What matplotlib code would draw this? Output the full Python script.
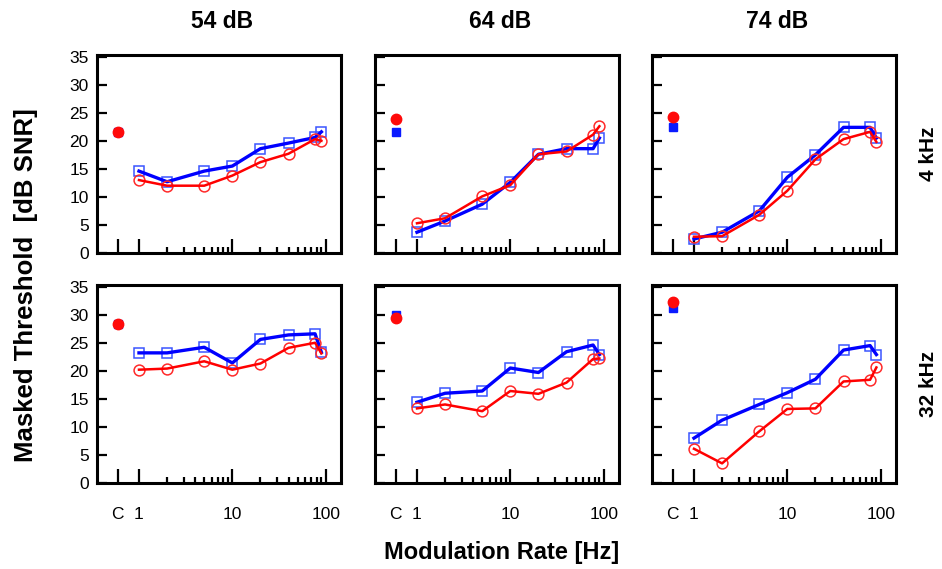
import numpy as np
import matplotlib
matplotlib.use("Agg")
import matplotlib.pyplot as plt
from matplotlib.ticker import FixedLocator, NullFormatter, FixedFormatter

plt.rcParams['font.family'] = ['Liberation Sans', 'DejaVu Sans']

# ---- data ----
rates = [1, 2, 5, 10, 20, 40, 77, 90]
c_pos = 0.59
levels = ["54 dB", "64 dB", "74 dB"]
freqs = ["4 kHz", "32 kHz"]

blue_4k_54 = [14.6, 12.7, 14.6, 15.5, 18.6, 19.6, 20.6, 21.6]
red_4k_54 = [13.0, 12.0, 12.0, 13.8, 16.2, 17.7, 20.3, 20.0]
blue_4k_64 = [3.7, 5.7, 8.7, 12.6, 17.6, 18.6, 18.6, 20.5]
red_4k_64 = [5.3, 6.2, 10.1, 12.1, 17.6, 18.1, 21.1, 22.6]
blue_4k_74 = [2.5, 3.7, 7.5, 13.5, 17.5, 22.4, 22.4, 20.5]
red_4k_74 = [2.9, 3.0, 6.8, 11.1, 16.7, 20.3, 21.6, 19.8]
blue_32k_54 = [23.2, 23.2, 24.2, 21.4, 25.6, 26.4, 26.6, 23.3]
red_32k_54 = [20.2, 20.4, 21.7, 20.2, 21.3, 24.1, 25.0, 23.1]
blue_32k_64 = [14.4, 16.0, 16.4, 20.5, 19.7, 23.4, 24.6, 22.9]
red_32k_64 = [13.3, 14.0, 12.8, 16.4, 15.9, 17.9, 22.1, 22.2]
blue_32k_74 = [8.0, 11.2, 14.0, 16.1, 18.5, 23.7, 24.5, 22.9]
red_32k_74 = [6.1, 3.5, 9.2, 13.2, 13.3, 18.1, 18.4, 20.6]

blue_ctrl = [[21.6, 21.6, 22.4], [28.4, 29.9, 31.2]]
red_ctrl = [[21.5, 23.9, 24.3], [28.4, 29.4, 32.3]]

blue_series = [[blue_4k_54, blue_4k_64, blue_4k_74],
               [blue_32k_54, blue_32k_64, blue_32k_74]]
red_series = [[red_4k_54, red_4k_64, red_4k_74],
              [red_32k_54, red_32k_64, red_32k_74]]

yticks = [0, 5, 10, 15, 20, 25, 30, 35]
xmajor = [c_pos, 1, 10, 100]
xmajor_labels = ["C", "1", "10", "100"]
xminor = [2, 3, 4, 5, 6, 7, 8, 9, 20, 30, 40, 50, 60, 70, 80, 90]

# ---- figure ----
W, H = 942, 569
fig = plt.figure(figsize=(W / 100, H / 100), dpi=100)

lefts = [97, 375, 652]
tops = [55, 285]
aw, ah = 244, 198

blue_line = '#0000ff'
blue_mk = '#3a55ff'
red_line = '#ff0000'
red_mk = '#ff2a2a'

for r in range(2):
    for c in range(3):
        ax = fig.add_axes([lefts[c] / W, 1 - (tops[r] + ah) / H, aw / W, ah / H])
        ax.set_xscale('log')
        ax.set_xlim(0.355, 146)
        ax.set_ylim(0, 35.3)
        b = blue_series[r][c]
        rd = red_series[r][c]
        ax.plot(rates, b, linestyle='none', marker='s', ms=7.3, mfc='none',
                mec=blue_mk, mew=1.1, zorder=3)
        ax.plot(rates, b, color=blue_line, lw=2.4, zorder=4)
        ax.plot(rates, rd, linestyle='none', marker='o', ms=7.8, mfc='none',
                mec=red_mk, mew=1.1, zorder=5)
        ax.plot(rates, rd, color=red_line, lw=1.8, zorder=6)
        ax.plot([c_pos], [blue_ctrl[r][c]], linestyle='none', marker='s', ms=5.8,
                color='#0a1aff', zorder=5)
        ax.plot([c_pos], [red_ctrl[r][c]], linestyle='none', marker='o', ms=7.5,
                color='#ff0a0a', zorder=6)

        for sp in ax.spines.values():
            sp.set_linewidth(2.2)
            sp.set_zorder(10)

        ax.xaxis.set_major_locator(FixedLocator(xmajor))
        ax.xaxis.set_minor_locator(FixedLocator(xminor))
        ax.xaxis.set_minor_formatter(NullFormatter())
        ax.yaxis.set_major_locator(FixedLocator(yticks))
        ax.tick_params(axis='x', which='major', direction='in', length=10,
                       width=1.6, labelsize=12.5, pad=17, top=False)
        ax.tick_params(axis='x', which='minor', direction='in', length=4.5,
                       width=1.6, top=False)
        ax.tick_params(axis='y', which='major', direction='in', length=7.5,
                       width=1.6, labelsize=12.5, pad=6, right=False)
        if r == 1:
            ax.xaxis.set_major_formatter(FixedFormatter(xmajor_labels))
        else:
            ax.xaxis.set_major_formatter(NullFormatter())
        if c == 0:
            ax.set_yticklabels([str(v) for v in yticks])
        else:
            ax.set_yticklabels([])

        if r == 0:
            fig.text((lefts[c] + aw / 2 + 3) / W, 1 - 22 / H, levels[c],
                     ha='center', va='center', fontsize=16.5, fontweight='bold')
        if c == 2:
            fig.text(929 / W, 1 - (tops[r] + ah / 2) / H, freqs[r], rotation=90,
                     ha='center', va='center', fontsize=15, fontweight='bold')

fig.text(26 / W, 1 - 285 / H, "Masked Threshold  [dB SNR]", rotation=90,
         ha='center', va='center', fontsize=18.5, fontweight='bold')
fig.text(502 / W, 1 - 553 / H, "Modulation Rate [Hz]",
         ha='center', va='center', fontsize=17, fontweight='bold')

fig.savefig("out.png", dpi=100, facecolor='white')
